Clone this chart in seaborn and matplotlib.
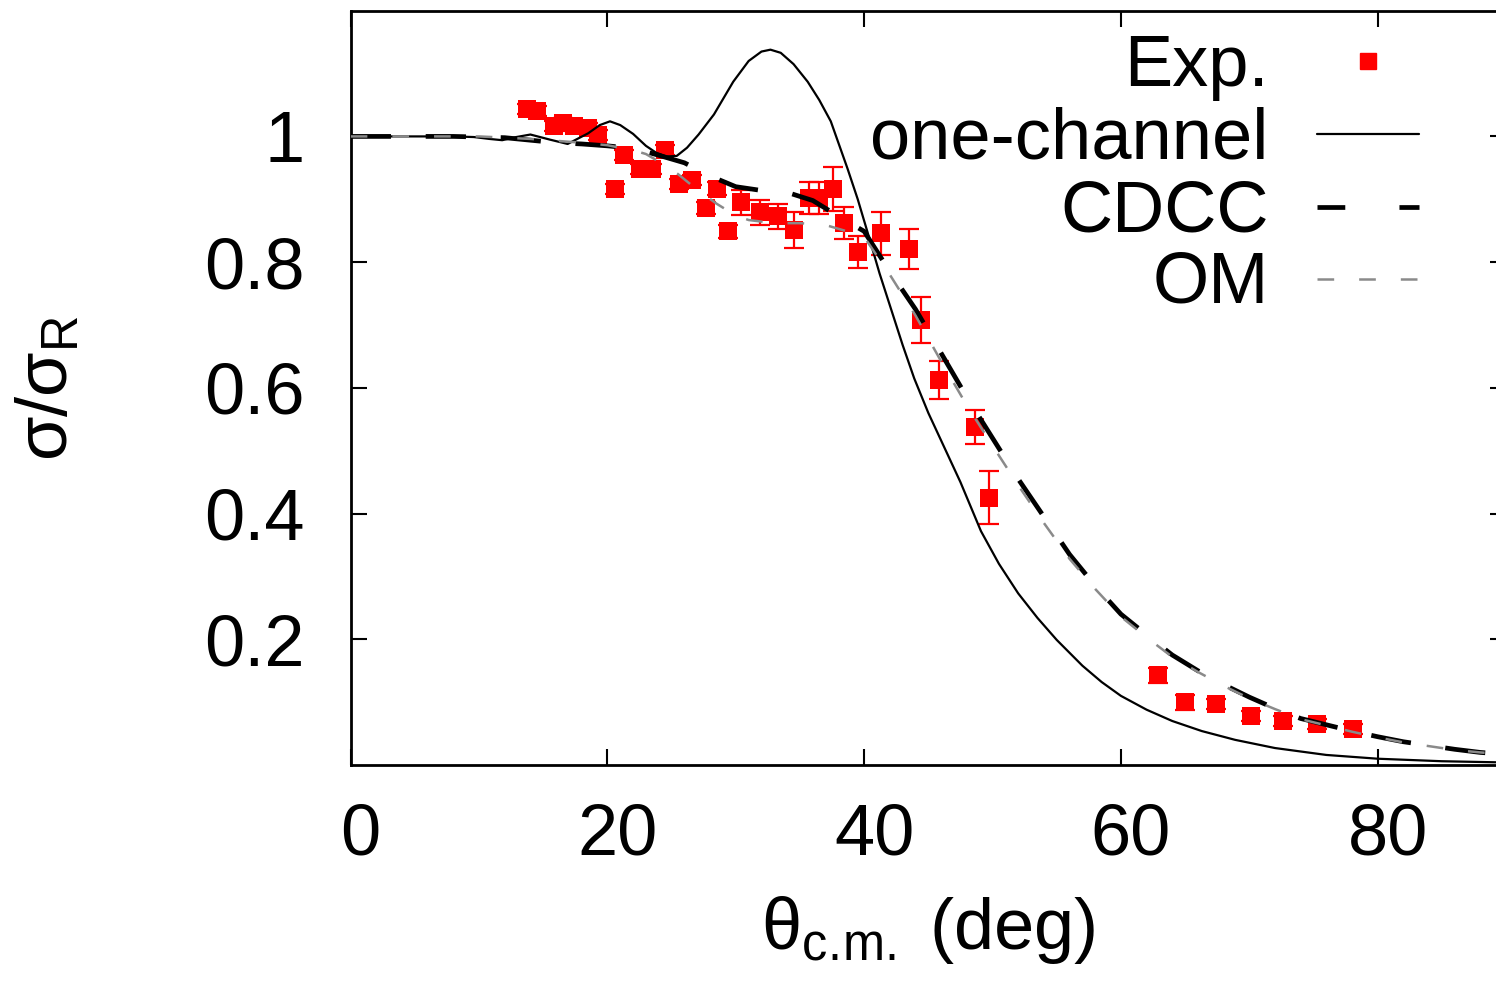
import matplotlib
matplotlib.use("Agg")
import matplotlib.pyplot as plt
import matplotlib.transforms as mtransforms
import seaborn as sns
from matplotlib.lines import Line2D

# ---------------- data ----------------
theta_exp = [13.7, 14.5, 15.8, 16.5, 17.4, 18.5, 19.3, 20.6, 21.3, 22.5, 23.5, 24.5,
             25.6, 26.6, 27.7, 28.5, 29.4, 30.4, 31.9, 33.3, 34.5, 35.7, 36.5, 37.6,
             38.4, 39.5, 41.3, 43.5, 44.4, 45.8, 48.6, 49.7, 62.9, 65.0, 67.4, 70.1,
             72.6, 75.3, 78.1]
sigma_exp = [1.043, 1.040, 1.016, 1.021, 1.016, 1.013, 1.003, 0.917, 0.970, 0.948, 0.948, 0.978,
             0.924, 0.930, 0.886, 0.917, 0.849, 0.895, 0.879, 0.873, 0.851, 0.902, 0.902, 0.917,
             0.862, 0.816, 0.846, 0.821, 0.708, 0.613, 0.538, 0.425, 0.143, 0.100, 0.097, 0.078,
             0.070, 0.065, 0.057]
err_exp = [0.008, 0.008, 0.008, 0.008, 0.008, 0.008, 0.008, 0.008, 0.008, 0.008, 0.008, 0.008,
           0.008, 0.008, 0.010, 0.010, 0.010, 0.020, 0.020, 0.020, 0.028, 0.025, 0.025, 0.035,
           0.025, 0.025, 0.034, 0.032, 0.037, 0.030, 0.027, 0.042, 0.012, 0.012, 0.008, 0.008,
           0.008, 0.008, 0.008]

theta_one = [0, 4, 8, 9.6, 10.8, 11.8, 12.9, 14.0, 15.5, 16.9, 18.5, 19.4, 20.2, 21.0, 22.0,
             23.0, 23.8, 24.6, 25.4, 26.2, 27.1, 28.3, 29.8, 31.0, 32.0, 32.7, 33.5, 34.5,
             35.6, 36.5, 37.4, 38.7, 39.5, 40.3, 41.2, 42.1, 43.0, 43.9, 45.0, 46.0, 47.5,
             49.1, 50.5, 52.0, 53.5, 55.0, 57.0, 58.5, 60.0, 62.0, 64.0, 66.3, 68.9, 72.0,
             76.0, 80.0, 85.0, 90.0]
sigma_one = [1.0, 1.0, 1.0, 0.999, 0.996, 0.994, 0.999, 1.003, 0.995, 0.988, 1.005, 1.018, 1.024,
             1.018, 1.004, 0.985, 0.974, 0.968, 0.969, 0.982, 1.003, 1.035, 1.087, 1.120, 1.135,
             1.138, 1.133, 1.115, 1.087, 1.058, 1.024, 0.949, 0.900, 0.845, 0.782, 0.725, 0.668,
             0.615, 0.560, 0.516, 0.450, 0.372, 0.320, 0.273, 0.234, 0.199, 0.158, 0.132, 0.110,
             0.088, 0.070, 0.054, 0.040, 0.027, 0.016, 0.010, 0.006, 0.004]

theta_cdcc = [0, 8, 12, 14, 16, 18, 20, 22, 24, 26, 28, 30, 32, 34, 36, 38, 40, 42, 44, 46,
              48, 50, 52, 54, 56, 58, 60, 62, 64, 66, 68, 70, 72, 74, 76, 78, 80, 82, 84,
              86, 88, 90]
sigma_cdcc = [1.0, 1.0, 0.998, 0.994, 0.990, 0.988, 0.985, 0.981, 0.970, 0.958, 0.937, 0.920,
              0.914, 0.911, 0.898, 0.873, 0.849, 0.785, 0.725, 0.655, 0.585, 0.520, 0.455,
              0.395, 0.335, 0.285, 0.240, 0.207, 0.175, 0.150, 0.128, 0.108, 0.090, 0.074,
              0.064, 0.054, 0.045, 0.037, 0.031, 0.025, 0.020, 0.017]

theta_om = [0, 10, 14, 18, 20, 22, 23, 24, 25.5, 27, 28.5, 30, 31, 33, 35, 37, 38.5, 40, 42,
            44, 46, 48, 50, 52, 54, 56, 58, 60, 62, 64, 66, 68, 70, 72, 74, 76, 78, 80, 82,
            84, 86, 88, 90]
sigma_om = [1.0, 1.0, 0.996, 0.990, 0.986, 0.978, 0.972, 0.960, 0.940, 0.915, 0.893, 0.874,
            0.867, 0.862, 0.862, 0.859, 0.850, 0.840, 0.780, 0.715, 0.642, 0.572, 0.508,
            0.445, 0.385, 0.328, 0.280, 0.236, 0.203, 0.172, 0.148, 0.126, 0.106, 0.089,
            0.073, 0.063, 0.053, 0.044, 0.036, 0.030, 0.024, 0.020, 0.017]

xticks = [0, 20, 40, 60, 80]
yticks = [0.2, 0.4, 0.6, 0.8, 1.0]
ytick_labels = ["0.2", "0.4", "0.6", "0.8", "1"]
legend_labels = ["Exp.", "one-channel", "CDCC", "OM"]

# ---------------- style ----------------
sns.set_style("ticks")
plt.rcParams['font.family'] = ['Liberation Sans', 'DejaVu Sans']
plt.rcParams['mathtext.fontset'] = 'custom'
plt.rcParams['mathtext.rm'] = 'Liberation Sans'
plt.rcParams['mathtext.it'] = 'Liberation Sans'
plt.rcParams['lines.scale_dashes'] = False
for k in ['text.color', 'axes.labelcolor', 'xtick.color', 'ytick.color',
          'xtick.labelcolor', 'ytick.labelcolor', 'axes.edgecolor']:
    plt.rcParams[k] = 'black'

W, H = 1496, 984
fig = plt.figure(figsize=(W / 100, H / 100), dpi=100)
x0, x1, ytop, ybot = 350.7, 1506.0, 10.7, 765.0
ax = fig.add_axes([x0 / W, 1 - ybot / H, (x1 - x0) / W, (ybot - ytop) / H])

FS = 52
RED = '#ff0000'
GRAY = '#8a8a8a'
cdcc_ls = (0, (29, 25))
om_ls = (0, (12, 18))

ax.errorbar(theta_exp, sigma_exp, yerr=err_exp, fmt='none', ecolor=RED,
            elinewidth=1.6, capsize=7, capthick=1.6, zorder=2)
sns.scatterplot(x=theta_exp, y=sigma_exp, marker='s', s=185, color=RED,
                linewidth=0, ax=ax, zorder=3)
sns.lineplot(x=theta_one, y=sigma_one, color='black', linewidth=1.6,
             estimator=None, sort=False, ax=ax, zorder=4)
sns.lineplot(x=theta_cdcc, y=sigma_cdcc, color='black', linewidth=3.4,
             linestyle=cdcc_ls, estimator=None, sort=False, ax=ax, zorder=5)
sns.lineplot(x=theta_om, y=sigma_om, color=GRAY, linewidth=1.8,
             linestyle=om_ls, estimator=None, sort=False, ax=ax, zorder=6)

ax.set_xlim(0, 90)
ax.set_ylim(0, 1.2)
ax.set_xticks(xticks)
ax.set_xticklabels([str(v) for v in xticks])
ax.set_yticks(yticks)
ax.set_yticklabels(ytick_labels)
ax.tick_params(axis='both', direction='in', length=11.5, width=1.5,
               top=True, right=True, labelsize=FS, colors='black')
ax.tick_params(axis='y', pad=33)
ax.tick_params(axis='x', pad=27)
for sp in ax.spines.values():
    sp.set_linewidth(2.0)
    sp.set_color('black')

# gnuplot places the x tick labels slightly right of their ticks
shift = mtransforms.ScaledTranslation(10 / 100, 0, fig.dpi_scale_trans)
for lab in ax.get_xticklabels():
    lab.set_transform(lab.get_transform() + shift)

ax.set_xlabel(r'θ$_{\mathregular{c.\!m.}}$ (deg)', fontsize=FS, labelpad=18)
ax.set_ylabel(r'σ/σ$_{\mathregular{R}}$', fontsize=FS, labelpad=88)

# ---------------- legend (manual, right-aligned text) ----------------
baselines = [86, 158, 231, 303]
line_y = [61, 134, 207, 279]
tx = 1268.5
lx0, lx1 = 1317, 1419
for lab, b in zip(legend_labels, baselines):
    fig.text(tx / W, 1 - b / H, lab, ha='right', va='baseline', fontsize=FS)
fig.add_artist(Line2D([(lx0 + lx1) / 2 / W], [1 - line_y[0] / H], marker='s',
                      markersize=11, color=RED, linestyle='none',
                      transform=fig.transFigure))
fig.add_artist(Line2D([lx0 / W, lx1 / W], [1 - line_y[1] / H] * 2, color='black',
                      linewidth=1.6, transform=fig.transFigure))
fig.add_artist(Line2D([lx0 / W, lx1 / W], [1 - line_y[2] / H] * 2, color='black',
                      linewidth=3.4, linestyle=(0, (20, 39)), transform=fig.transFigure))
fig.add_artist(Line2D([lx0 / W, lx1 / W], [1 - line_y[3] / H] * 2, color=GRAY,
                      linewidth=1.8, linestyle=om_ls, transform=fig.transFigure))

fig.savefig('out.png', dpi=100)
